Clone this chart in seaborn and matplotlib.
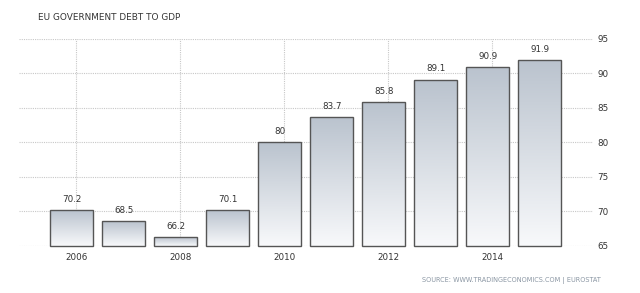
import numpy as np
import pandas as pd
import matplotlib
matplotlib.use("Agg")
import matplotlib.pyplot as plt
import seaborn as sns

years = [2006, 2007, 2008, 2009, 2010, 2011, 2012, 2013, 2014, 2015]
debt = [70.2, 68.5, 66.2, 70.1, 80.0, 83.7, 85.8, 89.1, 90.9, 91.9]
value_labels = ["70.2", "68.5", "66.2", "70.1", "80", "83.7", "85.8", "89.1", "90.9", "91.9"]
yticks = [65, 70, 75, 80, 85, 90, 95]
xtick_years = [2006, 2008, 2010, 2012, 2014]
title = "EU GOVERNMENT DEBT TO GDP"
source = "SOURCE: WWW.TRADINGECONOMICS.COM | EUROSTAT"

df = pd.DataFrame({"year": years, "debt": debt})

sns.set_style("white")
plt.rcParams["font.family"] = ["DejaVu Sans"]

fig = plt.figure(figsize=(6.4, 2.93), dpi=100)
ax = fig.add_axes([19 / 640, 1 - 245.6 / 293, (593 - 19) / 640, (245.6 - 39) / 293])

sns.barplot(data=df, x="year", y="debt", ax=ax, width=0.82,
            facecolor="none", edgecolor="#555555", linewidth=1.0, zorder=3)

base = yticks[0]
grad = np.linspace(0, 1, 256).reshape(-1, 1)
cmap = matplotlib.colors.LinearSegmentedColormap.from_list(
    "g", ["#f8f9fb", "#bac3ce"])
for p, lab in zip(ax.patches, value_labels):
    x0 = p.get_x()
    w = p.get_width()
    top = p.get_y() + p.get_height()
    p.set_y(base)
    p.set_height(top - base)
    p.set_clip_on(False)
    ax.imshow(grad, extent=[x0, x0 + w, base, top], origin="lower",
              cmap=cmap, aspect="auto", zorder=2, interpolation="bilinear")
    ax.text(x0 + w / 2, top + 0.9, lab, ha="center", va="bottom",
            fontsize=6.3, color="#333333")

ax.set_ylim(65, 95)
ax.set_xlim(-1.013, 10.025)
ax.set_yticks(yticks)
ax.yaxis.tick_right()
# time-axis ticks sit slightly right of the bar centres in the original
pos = [years.index(y) + 0.088 for y in xtick_years]
ax.set_xticks(pos)
ax.set_xticklabels([str(y) for y in xtick_years])
ax.tick_params(axis="both", labelsize=6.3, colors="#333333")
ax.tick_params(axis="y", length=0, pad=3)
ax.tick_params(axis="x", length=3, width=0.6, color="#cccccc", pad=2)
ax.grid(True, axis="both", linestyle=(0, (1, 1)), color="#c8c8c8", linewidth=0.8, zorder=0)
ax.set_axisbelow(True)
for s in ax.spines.values():
    s.set_visible(False)
ax.set_xlabel("")
ax.set_ylabel("")

fig.text(38 / 640, 1 - 17 / 293, title, fontsize=6.4, color="#333333", va="center", ha="left")
fig.text(601 / 640, 1 - 280 / 293, source, fontsize=4.7, color="#8a96a3", va="center", ha="right")

fig.savefig("out.png", dpi=100)
